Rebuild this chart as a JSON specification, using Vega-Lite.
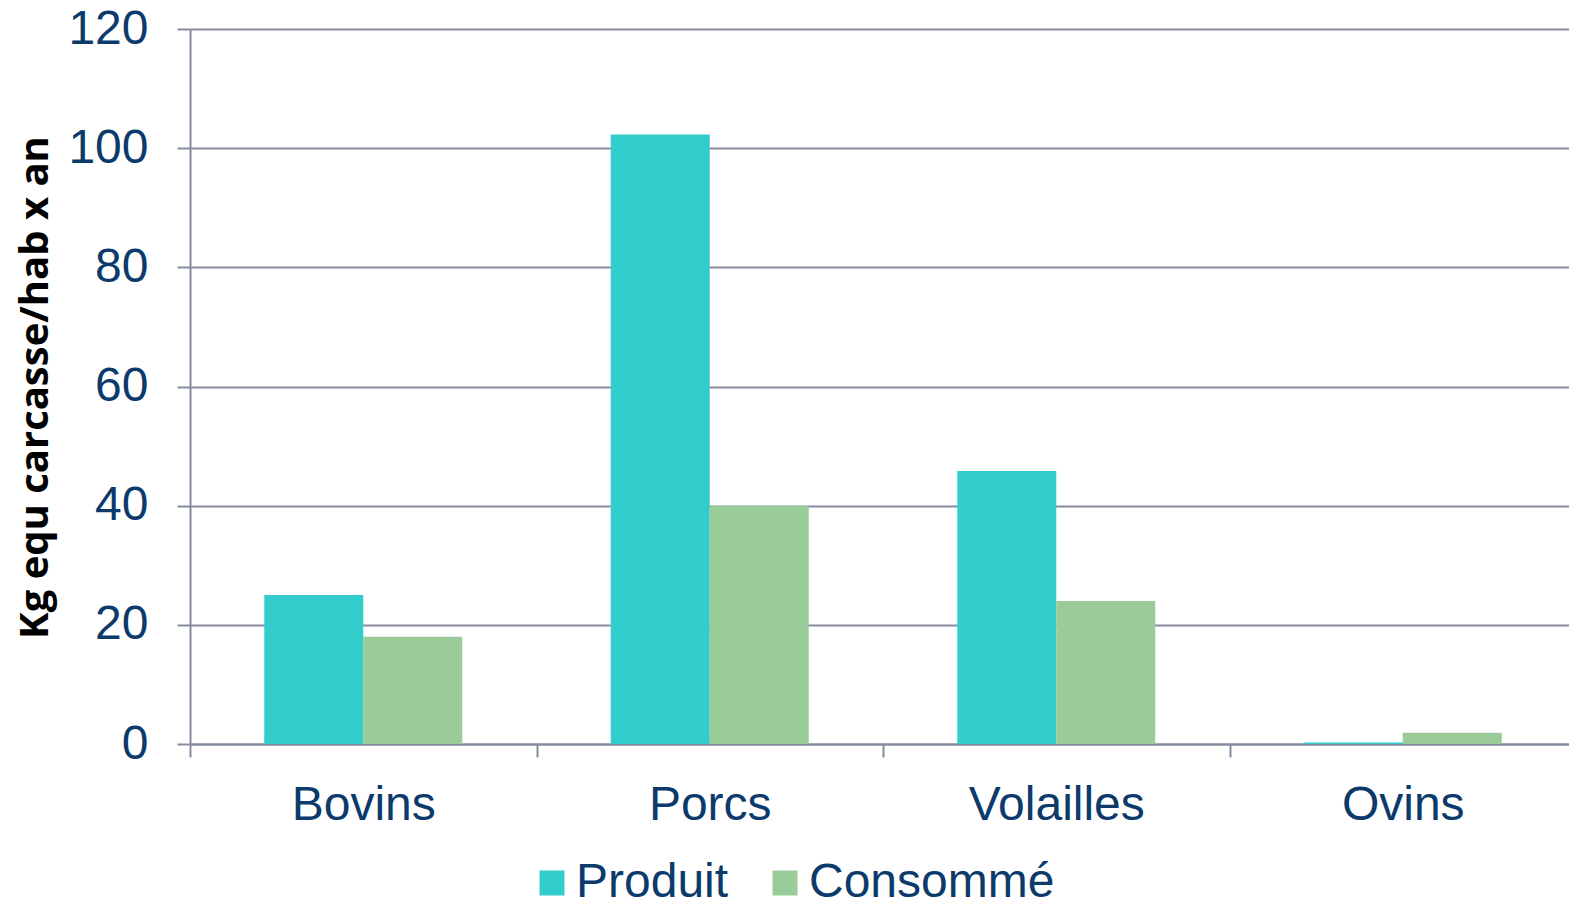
{
  "$schema": "https://vega.github.io/schema/vega-lite/v6.json",
  "autosize": "none",
  "width": 1379,
  "height": 715,
  "padding": {"left": 190, "top": 29, "right": 0, "bottom": 158},
  "background": "white",
  "data": {
    "values": [
      {"categorie": "Bovins", "serie": "Produit", "valeur": 25.0},
      {"categorie": "Bovins", "serie": "Consommé", "valeur": 18.0},
      {"categorie": "Porcs", "serie": "Produit", "valeur": 102.3},
      {"categorie": "Porcs", "serie": "Consommé", "valeur": 40.0},
      {"categorie": "Volailles", "serie": "Produit", "valeur": 45.8},
      {"categorie": "Volailles", "serie": "Consommé", "valeur": 24.0},
      {"categorie": "Ovins", "serie": "Produit", "valeur": 0.25},
      {"categorie": "Ovins", "serie": "Consommé", "valeur": 1.9}
    ]
  },
  "config": {
    "view": {"stroke": null},
    "font": "Liberation Sans"
  },
  "mark": {"type": "bar"},
  "encoding": {
    "x": {
      "field": "categorie",
      "type": "nominal",
      "sort": ["Bovins", "Porcs", "Volailles", "Ovins"],
      "scale": {"paddingInner": 0, "paddingOuter": 0, "range": [0, 1386]},
      "axis": {
        "title": null,
        "labelAngle": 0,
        "labelFont": "Liberation Sans",
        "labelFontSize": 48,
        "labelColor": "#0b3a6b",
        "labelPadding": 24,
        "tickBand": "extent",
        "tickSize": 13,
        "tickWidth": 2,
        "tickColor": "#868ca0",
        "domainColor": "#868ca0",
        "domainWidth": 2,
        "grid": false
      }
    },
    "xOffset": {
      "field": "serie",
      "type": "nominal",
      "sort": ["Produit", "Consommé"],
      "scale": {"paddingInner": 0, "paddingOuter": 0.75}
    },
    "y": {
      "field": "valeur",
      "type": "quantitative",
      "scale": {"domain": [0, 120], "nice": false},
      "axis": {
        "title": "Kg equ carcasse/hab x an",
        "titleFont": "Open Sans",
        "titleFontWeight": "bold",
        "titleFontSize": 40,
        "titleColor": "#000000",
        "titleAngle": -90,
        "titleBaseline": "middle",
        "titleAlign": "center",
        "titleX": -155,
        "titleY": 358,
        "values": [0, 20, 40, 60, 80, 100, 120],
        "labelFont": "Liberation Sans",
        "labelFontSize": 48,
        "labelColor": "#0b3a6b",
        "labelPadding": 29,
        "tickSize": 13,
        "tickWidth": 2,
        "tickColor": "#868ca0",
        "domainColor": "#868ca0",
        "domainWidth": 2,
        "gridColor": "#868ca0",
        "gridWidth": 2
      }
    },
    "color": {
      "field": "serie",
      "type": "nominal",
      "sort": ["Produit", "Consommé"],
      "scale": {"domain": ["Produit", "Consommé"], "range": ["#33CCCC", "#99CC99"]},
      "legend": {
        "title": null,
        "orient": "none",
        "direction": "horizontal",
        "legendX": 338,
        "legendY": 830,
        "symbolType": "square",
        "symbolSize": 625,
        "symbolStrokeWidth": 0,
        "labelFont": "Liberation Sans",
        "labelFontSize": 48,
        "labelColor": "#0b3a6b",
        "labelOffset": 0,
        "columnPadding": 32,
        "labelLimit": 400
      }
    }
  }
}
